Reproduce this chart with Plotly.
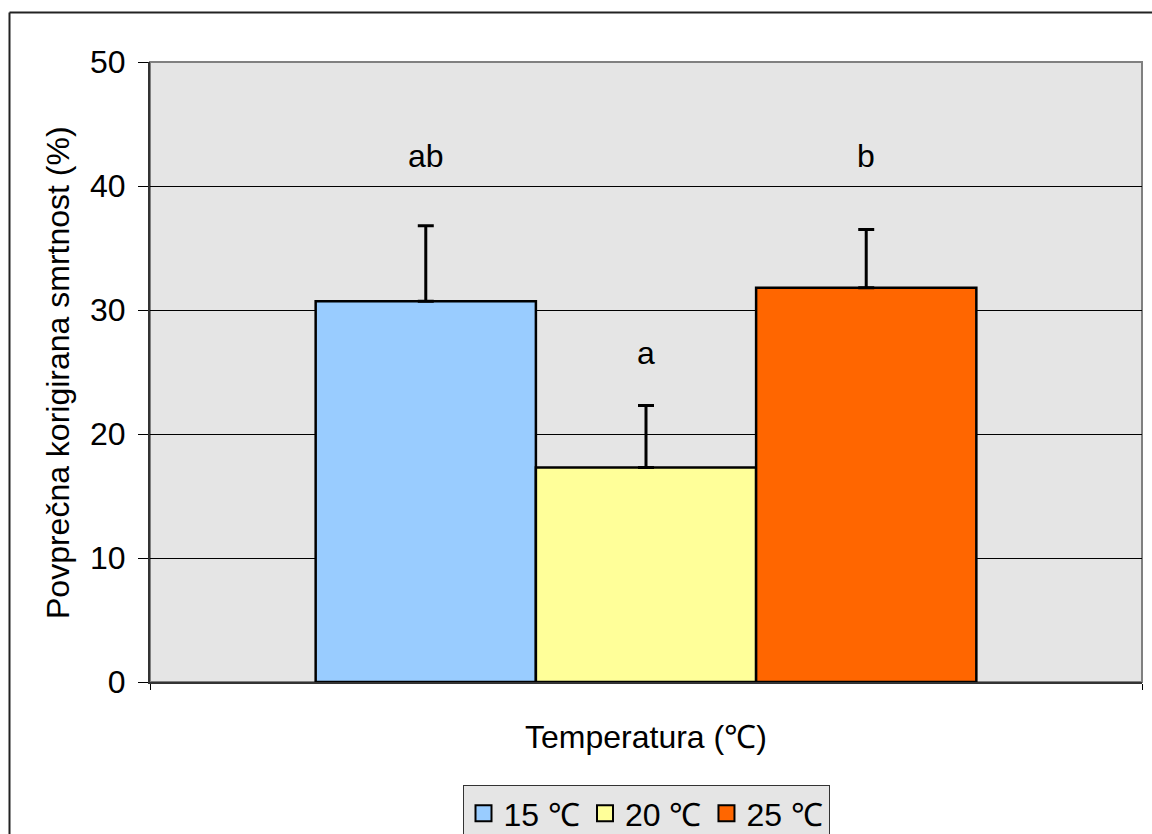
import plotly.graph_objects as go

# Data
series_names = ["15 ℃", "20 ℃", "25 ℃"]
means = [30.7, 17.3, 31.8]
errors = [6.1, 5.0, 4.7]
letters = ["ab", "a", "b"]
letter_y = [42.4, 26.5, 42.4]
colors = ["#99CCFF", "#FFFF99", "#FF6600"]
y_ticks = [0, 10, 20, 30, 40, 50]

W, H = 1152, 834
L, R, T, B = 150, 10, 62, 152
pw, ph = W - L - R, H - T - B

FONT = "Liberation Sans, Arial, sans-serif"
FS = 32

fig = go.Figure()
for name, m, e, c in zip(series_names, means, errors, colors):
    fig.add_trace(go.Bar(
        x=[""], y=[m], name=name, showlegend=False,
        marker=dict(color=c, line=dict(color="black", width=2.5)),
        error_y=dict(type="data", symmetric=False, array=[e], arrayminus=[0],
                     color="black", thickness=3, width=8),
    ))
# legend entries with larger square swatches
for name, c in zip(series_names, colors):
    fig.add_trace(go.Scatter(
        x=[None], y=[None], name=name, mode="markers",
        marker=dict(symbol="square", size=18, color=c, line=dict(color="black", width=2)),
    ))

bargap = 0.334
bw = (1 - bargap) / 3
for i, (lt, ly) in enumerate(zip(letters, letter_y)):
    fig.add_annotation(x=(i - 1) * bw, y=ly, xref="x", yref="y", text=lt,
                       showarrow=False, font=dict(size=FS, color="black", family=FONT))

def px(xp):
    return (xp - L) / pw

def py(yp):
    return (H - B - yp) / ph

shapes = [
    dict(type="rect", xref="paper", yref="paper", x0=0, y0=0, x1=1, y1=1,
         line=dict(color="#808080", width=2), layer="below"),
    dict(type="line", xref="paper", yref="paper", x0=px(9.5), y0=py(12.5), x1=px(W + 5), y1=py(12.5),
         line=dict(color="#222222", width=2)),
    dict(type="line", xref="paper", yref="paper", x0=px(9.5), y0=py(12.5), x1=px(9.5), y1=py(H + 5),
         line=dict(color="#222222", width=2)),
]

fig.add_annotation(x=0.5, y=py(737), xref="paper", yref="paper", text="Temperatura (℃)",
                   showarrow=False, yanchor="middle",
                   font=dict(size=FS, color="black", family=FONT))
fig.add_annotation(x=px(58), y=py(373), xref="paper", yref="paper",
                   text="Povprečna korigirana smrtnost (%)", textangle=-90,
                   showarrow=False, xanchor="center", yanchor="middle",
                   font=dict(size=FS, color="black", family=FONT))

fig.update_layout(
    width=W, height=H,
    margin=dict(l=L, r=R, t=T, b=B, autoexpand=False),
    paper_bgcolor="white", plot_bgcolor="#E5E5E5",
    barmode="group", bargap=bargap, bargroupgap=0,
    font=dict(family=FONT, size=FS, color="black"),
    shapes=shapes,
    showlegend=True,
    legend=dict(orientation="h", x=0.5, xanchor="center", y=py(785), yanchor="top",
                bgcolor="#E5E5E5", bordercolor="#333333", borderwidth=1,
                font=dict(size=FS, family=FONT, color="black"),
                itemwidth=30, itemsizing="trace", traceorder="normal"),
)
fig.update_xaxes(range=[-0.5, 0.5], showgrid=False, zeroline=False,
                 showline=True, linecolor="#333333", linewidth=2,
                 ticks="outside", tickson="boundaries", ticklen=6, tickcolor="black",
                 showticklabels=False)
fig.update_yaxes(range=[0, 50], tickvals=y_ticks, showgrid=True, gridcolor="black", gridwidth=1,
                 zeroline=False, showline=True, linecolor="#333333", linewidth=2,
                 ticks="outside", ticklen=10, tickcolor="black", tickwidth=1,
                 ticklabelstandoff=6,
                 tickfont=dict(size=FS, family=FONT, color="black"))

fig.write_html("out.html")
